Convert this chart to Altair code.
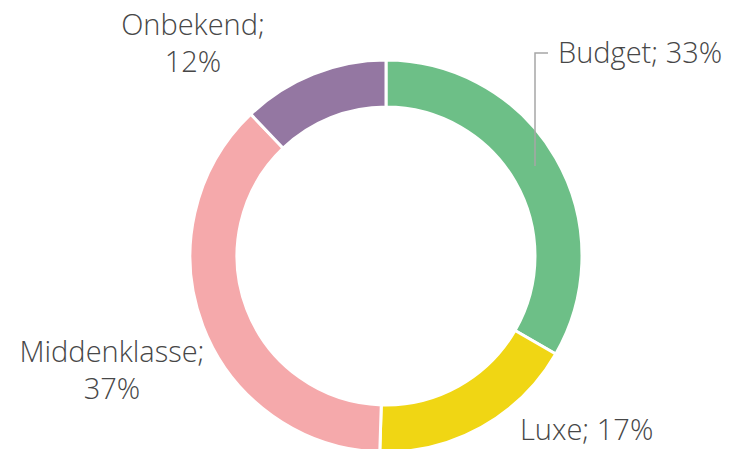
import altair as alt
import pandas as pd

categories = ["Budget", "Luxe", "Middenklasse", "Onbekend"]
values = [33, 17, 37, 12]
colors = ["#6dbf87", "#f0d614", "#f5a9ab", "#9477a2"]

df = pd.DataFrame({"cat": categories, "val": values, "idx": list(range(len(categories)))})

CX, CY = 378, 248
FONT = "Open Sans"
FS = 29
TC = "#474747"

donut = alt.Chart(df).mark_arc(innerRadius=149, outerRadius=196, stroke="white", strokeWidth=3).encode(
    theta=alt.Theta("val:Q", stack=True),
    color=alt.Color("cat:N", scale=alt.Scale(domain=categories, range=colors), legend=None),
    order=alt.Order("idx:Q"),
    x=alt.value(CX),
    y=alt.value(CY),
)

def lab(i):
    return f"{categories[i]}; {values[i]}%"

def lab2(i):
    return f"{categories[i]};\n{values[i]}%"

base = alt.Chart(pd.DataFrame({"a": [0]}))

def text(t, x, y, align):
    return base.mark_text(font=FONT, fontSize=FS, fontWeight=300, color=TC, align=align,
                          baseline="alphabetic", lineBreak="\n", lineHeight=37).encode(
        x=alt.value(x), y=alt.value(y), text=alt.value(t))

t_budget = text(lab(0), 550, 55, "left")
t_luxe = text(lab(1), 512, 432, "left")
t_mid = text(lab2(2), 104, 354, "center")
t_onb = text(lab2(3), 185, 27, "center")

leader_df = pd.DataFrame({"x": [527, 527, 540], "y": [158, 45, 45], "o": [0, 1, 2]})
leader = alt.Chart(leader_df).mark_line(color="#a6a6a6", strokeWidth=1.5).encode(
    x=alt.X("x:Q", scale=None, axis=None), y=alt.Y("y:Q", scale=None, axis=None), order="o:Q"
)

chart = alt.layer(donut, leader, t_budget, t_luxe, t_mid, t_onb).properties(
    width=714, height=441, padding=0, autosize="none"
).configure_view(stroke=None)

chart.save("out.html", embed_options={"renderer": "svg", "actions": False})
